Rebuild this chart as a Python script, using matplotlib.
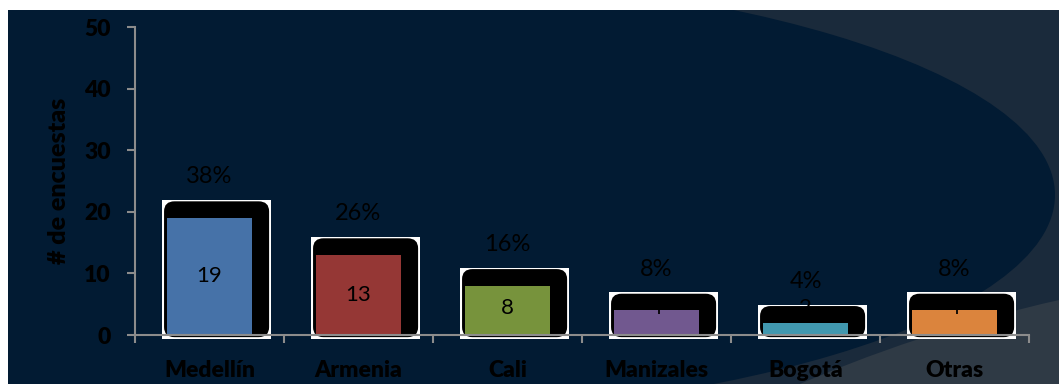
import matplotlib
matplotlib.use("Agg")
import matplotlib.pyplot as plt
from matplotlib.patches import Rectangle, Ellipse, Circle, FancyBboxPatch
import numpy as np

plt.rcParams['font.family'] = ['Lato', 'DejaVu Sans']

categories = ["Medellín", "Armenia", "Cali", "Manizales", "Bogotá", "Otras"]
values = [19, 13, 8, 4, 2, 4]
percents = ["38%", "26%", "16%", "8%", "4%", "8%"]
bar_colors = ["#4672a8", "#953735", "#77933c", "#71588f", "#4198af", "#db843d"]
yticks = [0, 10, 20, 30, 40, 50]

W, H = 1059, 384
fig = plt.figure(figsize=(W / 100, H / 100), dpi=100, facecolor="white")

# background (pixel coordinates)
bg = fig.add_axes([0, 0, 1, 1])
bg.set_xlim(0, W)
bg.set_ylim(H, 0)
bg.axis("off")
clip = Rectangle((8, 10), W - 8, H - 10, transform=bg.transData, facecolor="#1a2a3b", edgecolor="none")
bg.add_patch(clip)
band = Circle((1390, 1763), 1500, facecolor="#2f3a45", edgecolor="none")
bg.add_patch(band)
band.set_clip_path(clip)
e1 = Ellipse((300, 195), 2 * 755, 2 * 226, facecolor="#021b33", edgecolor="none")
bg.add_patch(e1)
e1.set_clip_path(clip)

ax = fig.add_axes([135 / W, (H - 335) / H, (1029 - 135) / W, (335 - 27) / H])
ax.set_facecolor("none")
ax.set_xlim(-0.5, len(categories) - 0.5)
ax.set_ylim(0, 50)

x = np.arange(len(categories))
bw = 0.57
r_x = 0.07
aspect = (10 / 6.16) / r_x
for xi, v, c in zip(x, values, bar_colors):
    ax.add_patch(Rectangle((xi - 0.318, -0.6), 0.73, v + 3.55, facecolor="white",
                           edgecolor="none", zorder=2, clip_on=False))
    ax.add_patch(FancyBboxPatch((xi - 0.305, -0.35), 0.705, v + 3.05,
                                boxstyle=f"round,pad=0,rounding_size={r_x}",
                                mutation_aspect=aspect, facecolor="black",
                                edgecolor="none", zorder=3, clip_on=False))
ax.bar(x, values, width=bw, color=bar_colors, zorder=4)

for xi, v, p in zip(x, values, percents):
    ax.text(xi, max(v / 2, 4.4), str(v), ha="center", va="center", fontsize=16,
            color="black", zorder=6)
    ax.annotate(p, (xi, v), xytext=(0, 29.5), textcoords="offset points",
                ha="center", va="center", fontsize=17, color="black", zorder=6)

for s in ["top", "right"]:
    ax.spines[s].set_visible(False)
for s in ["left", "bottom"]:
    ax.spines[s].set_color("#8c8c8c")
    ax.spines[s].set_linewidth(1.5)
    ax.spines[s].set_zorder(5)

ax.set_yticks(yticks)
ax.set_yticklabels([str(t) for t in yticks], fontsize=16.5, fontweight="heavy", color="black")
ax.tick_params(axis="y", length=5.8, width=1.5, color="#8c8c8c", pad=11.5)
ax.set_xticks(x)
ax.set_xticklabels(categories, fontsize=16.5, fontweight="heavy", color="black")
ax.tick_params(axis="x", which="major", length=0, pad=18)
ax.set_xticks(np.arange(len(categories) + 1) - 0.5, minor=True)
ax.tick_params(axis="x", which="minor", length=6, width=1.5, color="#8c8c8c")

ax.set_ylabel("# de encuestas", fontsize=18, fontweight="heavy", color="black", labelpad=10)

fig.savefig("out.png", dpi=100, facecolor="white")
